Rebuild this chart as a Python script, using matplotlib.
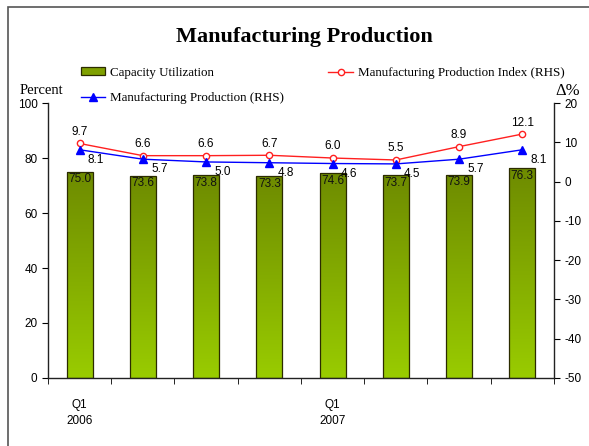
import numpy as np
import matplotlib.pyplot as plt
from matplotlib.colors import LinearSegmentedColormap
from matplotlib.patches import Patch, Rectangle
from matplotlib.lines import Line2D

plt.rcParams['axes.unicode_minus'] = False

# quarterly data, Q1 2006 - Q4 2007
quarters = ['Q1\n2006', '', '', '', 'Q1\n2007', '', '', '']
capacity_util = [75.0, 73.6, 73.8, 73.3, 74.6, 73.7, 73.9, 76.3]
mfg_index = [9.7, 6.6, 6.6, 6.7, 6.0, 5.5, 8.9, 12.1]
mfg_production = [8.1, 5.7, 5.0, 4.8, 4.6, 4.5, 5.7, 8.1]

serif = 'Liberation Serif'
sans = 'Liberation Sans'

fig = plt.figure(figsize=(5.89, 4.46), dpi=100)
ax = fig.add_axes([0.0815, 0.1525, 0.859, 0.6165])
ax2 = ax.twinx()

x = np.arange(len(capacity_util))
bar_w = 0.41

# bars with a vertical olive -> lime gradient
green_cmap = LinearSegmentedColormap.from_list('olive', ['#99CC00', '#6E8B00'])
grad = np.linspace(0, 1, 256).reshape(-1, 1)
bars = ax.bar(x, capacity_util, bar_w, color='none', edgecolor='#2b2b00',
              linewidth=0.9, zorder=3)
for bar, val in zip(bars, capacity_util):
    x0 = bar.get_x()
    im = ax.imshow(grad, cmap=green_cmap, origin='lower', aspect='auto',
                   extent=[x0, x0 + bar.get_width(), 0, val], zorder=2)
    im.set_clip_path(bar)
    ax.text(bar.get_x() + bar.get_width() / 2, val - 0.6, f'{val:.1f}',
            ha='center', va='top', fontsize=8.5, family=sans, color='#111111', zorder=4)

ax.set_xlim(-0.5, len(x) - 0.5)
ax.set_ylim(0, 100)
ax.set_yticks(range(0, 101, 20))
ax.set_xticks(x)
ax.set_xticklabels(quarters, family=sans, fontsize=8.5, linespacing=1.45)
ax.set_xticks(np.arange(-0.5, len(x), 1), minor=True)
ax.tick_params(axis='x', which='major', length=0, pad=15)
ax.tick_params(axis='x', which='minor', length=4, direction='out')
ax.tick_params(axis='y', length=4, direction='out', labelsize=8.5)
for lbl in ax.get_yticklabels():
    lbl.set_family(sans)

# growth lines on the right-hand scale
ax2.plot(x, mfg_index, color='#FF2020', linewidth=1, marker='o', markersize=4.5,
         markerfacecolor='white', markeredgecolor='#FF2020', markeredgewidth=1, zorder=5)
ax2.plot(x, mfg_production, color='#0000FF', linewidth=1, marker='^', markersize=5.5,
         markerfacecolor='#0000FF', markeredgecolor='#0000FF', zorder=5)
for xi, v in zip(x, mfg_index):
    ax2.annotate(f'{v:.1f}', (xi, v), xytext=(0, 4), textcoords='offset points',
                 ha='center', va='bottom', fontsize=8.5, family=sans)
for xi, v in zip(x, mfg_production):
    ax2.annotate(f'{v:.1f}', (xi, v), xytext=(6, -3), textcoords='offset points',
                 ha='left', va='top', fontsize=8.5, family=sans)

ax2.set_ylim(-50, 20)
ax2.set_yticks(range(-50, 21, 10))
ax2.tick_params(axis='y', length=4, direction='out', labelsize=8.5)
for lbl in ax2.get_yticklabels():
    lbl.set_family(sans)

for a in (ax, ax2):
    a.spines['top'].set_visible(False)
    for s in a.spines.values():
        s.set_linewidth(1)
        s.set_color('#222222')
ax.spines['right'].set_visible(False)
ax2.spines['left'].set_visible(False)
ax2.spines['bottom'].set_visible(False)

fig.text(0.516, 0.916, 'Manufacturing Production', ha='center', va='center',
         family=serif, fontsize=16, fontweight='bold')
fig.text(0.034, 0.797, 'Percent', ha='left', va='center', family=serif, fontsize=10.5)
fig.text(0.943, 0.797, 'Δ%', ha='left', va='center', family=serif, fontsize=12)

handles = [
    Patch(facecolor='#7FA000', edgecolor='#2b2b00', linewidth=0.9),
    Line2D([], [], color='#0000FF', linewidth=1, marker='^', markersize=5.5),
    Line2D([], [], color='#FF2020', linewidth=1, marker='o', markersize=4.5,
           markerfacecolor='white'),
]
labels = ['Capacity Utilization', 'Manufacturing Production (RHS)',
          'Manufacturing Production Index (RHS)']
fig.legend(handles, labels, loc='upper left', bbox_to_anchor=(0.137, 0.85),
           ncol=2, frameon=False, prop={'family': serif, 'size': 9.4},
           handlelength=1.85, handleheight=0.6, handletextpad=0.4,
           labelspacing=1.02, columnspacing=3.4, borderpad=0, borderaxespad=0)

# outer frame (top and left edges visible)
fig.add_artist(Rectangle((8 / 589, -0.2), 1.2, 1.2 - 7 / 446,
                         transform=fig.transFigure, fill=False,
                         edgecolor='#555555', linewidth=1.2))

fig.savefig('out.png', dpi=100)
